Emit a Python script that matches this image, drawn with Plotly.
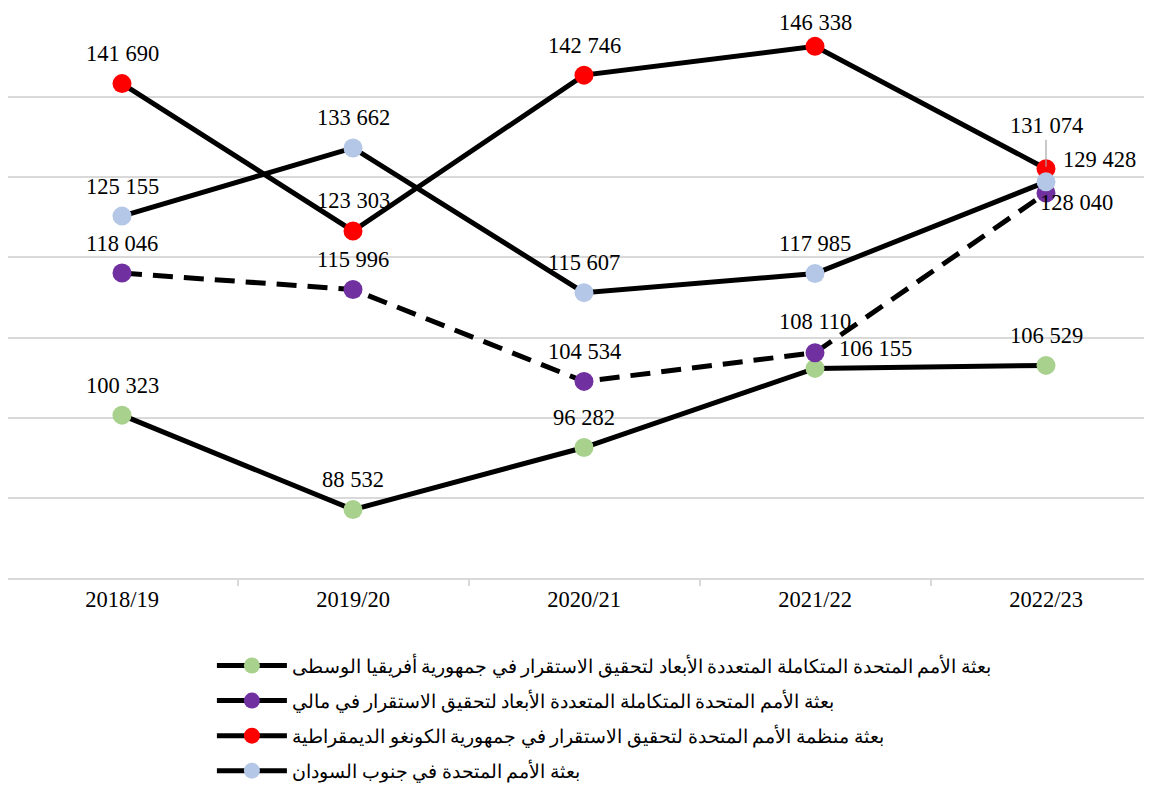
import plotly.graph_objects as go

categories = ["2018/19", "2019/20", "2020/21", "2021/22", "2022/23"]

names = [
    "بعثة الأمم المتحدة المتكاملة المتعددة الأبعاد لتحقيق الاستقرار في جمهورية أفريقيا الوسطى",
    "بعثة الأمم المتحدة المتكاملة المتعددة الأبعاد لتحقيق الاستقرار في مالي",
    "بعثة منظمة الأمم المتحدة لتحقيق الاستقرار في جمهورية الكونغو الديمقراطية",
    "بعثة الأمم المتحدة في جنوب السودان",
]

car = [100323, 88532, 96282, 106155, 106529]
mali = [118046, 115996, 104534, 108110, 128040]
drc = [141690, 123303, 142746, 146338, 131074]
ssd = [125155, 133662, 115607, 117985, 129428]

series = [car, mali, drc, ssd]
marker_colors = ["#a9d18e", "#7030a0", "#ff0000", "#b4c7e7"]
dashes = ["solid", "20px,11px", "solid", "solid"]

# label offsets (pixels) per series/point: (xshift, yshift)
offsets = [
    [(0, 30), (0, 30), (0, 30), (60, 20), (0, 30)],
    [(0, 30), (0, 30), (0, 30), (0, 31), (30, -10)],
    [(0, 30), (0, 30), (0, 30), (0, 24), None],
    [(0, 30), (0, 30), (0, 30), (0, 30), (53, 22)],
]

def fmt(v):
    return f"{v:,}".replace(",", " ")

font_family = "Liberation Serif"

fig = go.Figure()
for k, (name, vals, mc, dash) in enumerate(zip(names, series, marker_colors, dashes)):
    dashed = dash != "solid"
    fig.add_trace(go.Scatter(
        x=categories, y=vals, name=name, mode="lines+markers",
        legendgroup=f"g{k}", legendrank=k + 1, showlegend=not dashed,
        line=dict(color="black", width=5, dash=dash),
        marker=dict(color=mc, size=19, line=dict(width=0)),
        cliponaxis=False, hoverinfo="skip",
    ))
    if dashed:
        # legend entry drawn with a solid line, as in the reference
        fig.add_trace(go.Scatter(
            x=[None], y=[None], name=name, mode="lines+markers",
            legendgroup=f"g{k}", legendrank=k + 1, showlegend=True,
            line=dict(color="black", width=5),
            marker=dict(color=mc, size=19, line=dict(width=0)),
            hoverinfo="skip",
        ))

annotations = []
for si, vals in enumerate(series):
    for i, v in enumerate(vals):
        off = offsets[si][i]
        if off is None:
            annotations.append(dict(
                x=categories[i], y=v, text=fmt(v), showarrow=True,
                arrowhead=0, arrowwidth=1.2, arrowcolor="#a6a6a6",
                ax=0, ay=-43, standoff=2,
                font=dict(family=font_family, size=22.5, color="black"),
            ))
        else:
            annotations.append(dict(
                x=categories[i], y=v, text=fmt(v), showarrow=False,
                xshift=off[0], yshift=off[1],
                font=dict(family=font_family, size=22.5, color="black"),
            ))

fig.update_layout(
    width=1152, height=791,
    margin=dict(l=0, r=0, t=9, b=221),
    paper_bgcolor="white", plot_bgcolor="white",
    showlegend=True,
    legend=dict(
        x=0.177, y=-0.123, xanchor="left", yanchor="top",
        orientation="v", itemwidth=70, tracegroupgap=8,
        font=dict(family=font_family, size=18.5, color="black"),
        bgcolor="rgba(0,0,0,0)",
    ),
    annotations=annotations,
    xaxis=dict(
        type="category", range=[-0.4935, 4.4935],
        showgrid=False, showline=True, linecolor="#d9d9d9", linewidth=1.5,
        ticks="outside", tickson="boundaries", ticklen=6, tickcolor="#d9d9d9",
        tickwidth=1.5,
        tickfont=dict(family=font_family, size=22.5, color="black"),
        zeroline=False,
    ),
    yaxis=dict(
        range=[80000, 150000], dtick=10000, tick0=80000,
        showgrid=True, gridcolor="#d9d9d9", gridwidth=1.5,
        showticklabels=False, zeroline=False, showline=False,
    ),
)

fig.write_html("out.html")
